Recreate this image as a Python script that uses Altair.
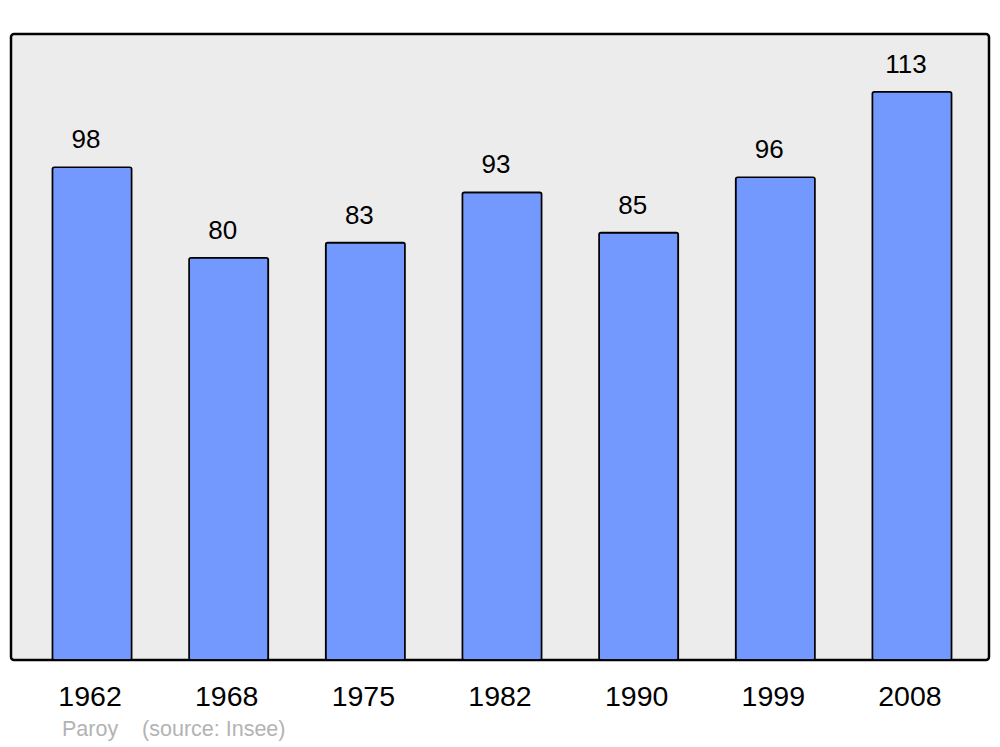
import altair as alt
import pandas as pd

years = ["1962", "1968", "1975", "1982", "1990", "1999", "2008"]
population = [98, 80, 83, 93, 85, 96, 113]

df = pd.DataFrame({"year": years, "pop": population})

FONT = "Liberation Sans"

x = alt.X(
    "year:N",
    sort=years,
    scale=alt.Scale(range=[12.7, 969.3], paddingInner=0.42, paddingOuter=0.21),
    axis=alt.Axis(
        title=None, domain=False, ticks=False, labelAngle=0,
        labelFontSize=28.5, labelFont=FONT, labelColor="black", labelPadding=22,
        labelOffset=-2,
    ),
)
y = alt.Y(
    "pop:Q",
    scale=alt.Scale(domain=[0, 124.5], nice=False),
    axis=None,
)

bars = alt.Chart(df).mark_bar(
    fill="#7399ff", stroke="black", strokeWidth=1.6, cornerRadius=2
).encode(x=x, y=y)

labels = alt.Chart(df).mark_text(
    font=FONT, fontSize=26, color="black", baseline="alphabetic", dy=-19, dx=-6
).encode(x=x, y=y, text="pop:Q")

chart = (
    alt.layer(bars, labels)
    .properties(
        width=978,
        height=626,
        autosize=alt.AutoSizeParams(type="none"),
        padding={"left": 3, "top": 26, "right": 3, "bottom": 86},
        title=alt.TitleParams(
            "Paroy\u00a0\u00a0\u00a0\u00a0(source: Insee)",
            orient="bottom", anchor="start", font=FONT, fontSize=21.5,
            fontWeight="normal", color="#b3b3b3", dx=51, offset=8,
        ),
    )
    .configure_view(fill="#ececec", stroke="black", strokeWidth=2.5, cornerRadius=3)
)

chart.save("out.html", embed_options={"renderer": "svg", "actions": False})
